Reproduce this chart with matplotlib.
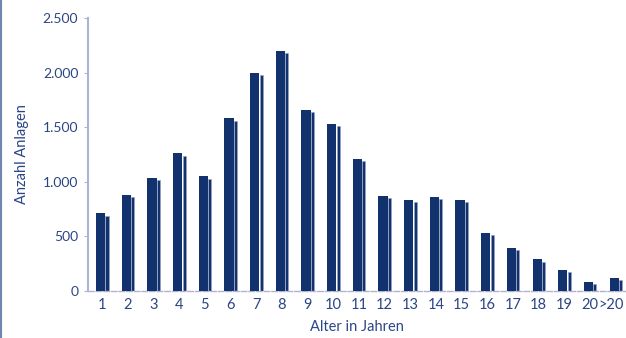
import numpy as np
import matplotlib
matplotlib.use("Agg")
import matplotlib.pyplot as plt
import matplotlib.transforms as mtransforms
from matplotlib.lines import Line2D

# Daten: Anzahl Anlagen nach Alter
kategorien = ["1", "2", "3", "4", "5", "6", "7", "8", "9", "10", "11",
              "12", "13", "14", "15", "16", "17", "18", "19", "20", ">20"]
anzahl = [710, 880, 1035, 1260, 1050, 1580, 2000, 2200, 1655, 1530, 1210,
          872, 835, 862, 832, 535, 396, 290, 193, 85, 120]
y_ticks = [0, 500, 1000, 1500, 2000, 2500]
y_labels = ["0", "500", "1.000", "1.500", "2.000", "2.500"]

navy = "#12326e"
text_col = "#2b4585"
spine_col = "#aeb3d6"

plt.rcParams["font.family"] = ["Lato", "DejaVu Sans"]

fig = plt.figure(figsize=(6.26, 3.38), dpi=100)
ax = fig.add_axes([88 / 626, 47 / 338, 538 / 626, 273 / 338])

x = np.arange(len(kategorien))
# Vorderseite der Balken
ax.bar(x - 0.06, anzahl, width=0.36, color=navy, zorder=3)
# Seitenfläche (leichter 3D-Effekt)
side = [v - 20 for v in anzahl]
ax.bar(x + 0.19, side, width=0.12, color=navy, edgecolor="#9aa6c8",
       linewidth=0.4, zorder=2)

ax.set_xlim(-0.55, 20.4)
ax.set_ylim(0, 2500)
ax.set_xticks(x)
ax.set_xticklabels(kategorien)
ax.set_yticks(y_ticks)
ax.set_yticklabels(y_labels)

for s in ["top", "right"]:
    ax.spines[s].set_visible(False)
ax.spines["left"].set_color(spine_col)
ax.spines["left"].set_linewidth(1.5)
ax.spines["bottom"].set_color(spine_col)
ax.spines["bottom"].set_linewidth(1.0)
ax.spines["bottom"].set_linestyle((0, (4, 1.5)))

ax.tick_params(axis="y", colors=text_col, labelsize=10, length=3,
               color=spine_col, direction="out", pad=4)
ax.tick_params(axis="x", colors=text_col, labelsize=10.5, length=0, pad=5)

# letztes Label etwas nach links, damit ">20" nicht abgeschnitten wird
last = ax.get_xticklabels()[-1]
shift = mtransforms.ScaledTranslation(-5 / 100, 0, fig.dpi_scale_trans)
last.set_transform(last.get_transform() + shift)

ax.set_xlabel("Alter in Jahren", color=text_col, fontsize=10.5, labelpad=6)
ax.set_ylabel("Anzahl Anlagen", color=text_col, fontsize=10.5, labelpad=10)

# Rahmenlinie links
fig.add_artist(Line2D([0.002, 0.002], [0, 1], color="#6f86b3",
                      linewidth=1.5, transform=fig.transFigure))

fig.savefig("out.png", dpi=100)
